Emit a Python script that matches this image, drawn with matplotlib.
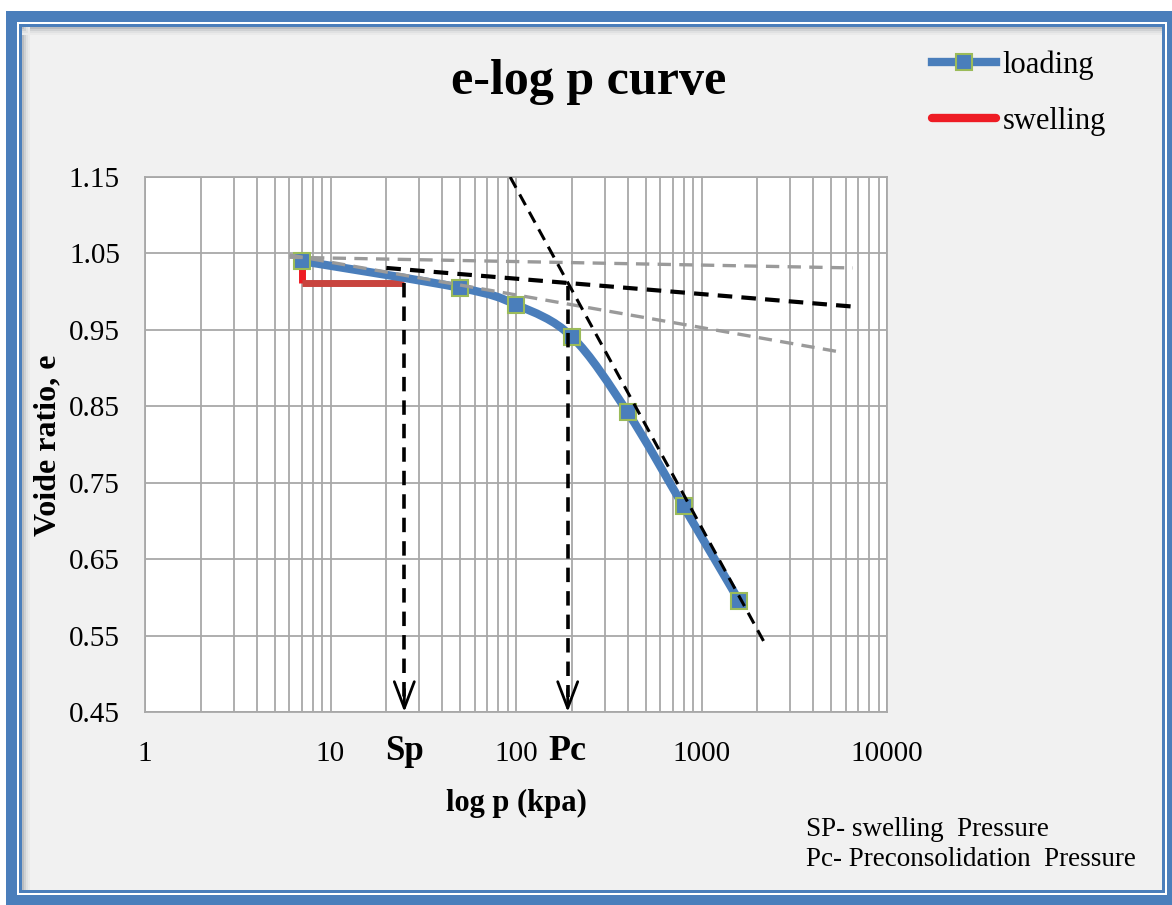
"""
e-log p curve of an oedometer test: loading and swelling branches with the
Casagrande construction for the preconsolidation pressure.
"""
import matplotlib
matplotlib.use('Agg')
import matplotlib.pyplot as plt
import numpy as np
from matplotlib.lines import Line2D
from matplotlib.patches import PathPatch, Rectangle
from matplotlib.path import Path
from matplotlib.ticker import FixedLocator, NullFormatter, LogLocator

plt.rcParams['font.family'] = ['Liberation Serif', 'DejaVu Serif']

# loading branch (p in kPa, void ratio e)
loading_p = [7, 50, 100, 200, 400, 800, 1600]
loading_e = [1.040, 1.005, 0.983, 0.941, 0.842, 0.719, 0.595]

# swelling branch
swelling_p = [7, 7, 25]
swelling_e = [1.040, 1.011, 1.011]

# construction lines: [p_start, p_end], [e_start, e_end]
virgin_p, virgin_e = [93, 2250], [1.15, 0.535]
tangent_p, tangent_e = [20, 6900], [1.031, 0.980]
horiz_p, horiz_e = [6, 6550], [1.045, 1.031]
bisect_p, bisect_e = [6, 5600], [1.048, 0.921]

# pressures
sp_value, sp_e = 25, 1.011
pc_value, pc_e = 190, 1.008

y_ticks = [0.45, 0.55, 0.65, 0.75, 0.85, 0.95, 1.05, 1.15]
x_ticks = [1, 10, 100, 1000, 10000]

W, H = 1172, 905
BLUE = '#4a7ebb'
GRID = '#a8a8a8'


def fig_xy(x, y):
    """pixel position (origin top left) -> figure fraction"""
    return x / W, 1 - y / H


def smooth_path(px, py):
    """Catmull-Rom style bezier through the points, built in log10(p) space."""
    u = np.log10(px)
    v = np.asarray(py, dtype=float)
    pts = np.column_stack([u, v])
    ext = np.vstack([pts[0], pts, pts[-1]])
    verts = [pts[0]]
    codes = [Path.MOVETO]
    for i in range(len(pts) - 1):
        p0, p1, p2, p3 = ext[i], ext[i + 1], ext[i + 2], ext[i + 3]
        c1 = p1 + (p2 - p0) / 6.0
        c2 = p2 - (p3 - p1) / 6.0
        verts += [c1, c2, p2]
        codes += [Path.CURVE4] * 3
    verts = np.array(verts)
    verts[:, 0] = 10 ** verts[:, 0]
    return Path(verts, codes)


fig = plt.figure(figsize=(W / 100, H / 100), dpi=100)
fig.patch.set_facecolor('white')

# frame around the chart
bg = fig.add_axes([0, 0, 1, 1])
bg.set_xlim(0, W)
bg.set_ylim(H, 0)
bg.axis('off')
bg.add_patch(Rectangle((6, 11), W - 6, H - 11, color=BLUE, lw=0))
bg.add_patch(Rectangle((17, 22), 1150, 873, color='white', lw=0))
bg.add_patch(Rectangle((19, 24), 1146, 869, color=BLUE, lw=0))
bg.add_patch(Rectangle((22, 27), 1140, 863, color='#f1f1f1', lw=0))
# soft inner shadow along top and left edges
for k, shade in enumerate(['#b9bcc0', '#cfd1d3', '#e0e1e2', '#eaeaea']):
    bg.add_patch(Rectangle((22, 27 + 2 * k), 1140, 2, color=shade, lw=0))
    bg.add_patch(Rectangle((22 + 2 * k, 27), 2, 863, color=shade, lw=0))

x0, y0 = fig_xy(145, 712)
x1, y1 = fig_xy(887, 177)
ax = fig.add_axes([x0, y0, x1 - x0, y1 - y0])
ax.set_facecolor('white')
ax.set_xscale('log')
ax.set_xlim(1, 10000)
ax.set_ylim(0.45, 1.15)

ax.xaxis.set_major_locator(FixedLocator(x_ticks))
ax.xaxis.set_minor_locator(LogLocator(base=10, subs=np.arange(2, 10)))
ax.xaxis.set_minor_formatter(NullFormatter())
ax.set_xticks(x_ticks)
ax.set_xticklabels([str(t) for t in x_ticks])
ax.set_yticks(y_ticks)
ax.set_yticklabels(['%.2f' % t for t in y_ticks])
ax.tick_params(which='both', length=0, labelsize=21)
ax.tick_params(axis='x', pad=21)
ax.tick_params(axis='y', pad=18)
ax.grid(True, which='both', axis='x', color=GRID, lw=1.3)
ax.grid(True, which='major', axis='y', color=GRID, lw=1.3)
for s in ax.spines.values():
    s.set_color(GRID)
    s.set_linewidth(1.3)

# swelling branch
ax.plot(swelling_p[:2], swelling_e[:2], color='#ee1c24', lw=5,
        solid_capstyle='butt', zorder=3)
ax.plot(swelling_p[1:], swelling_e[1:], color='#c8443e', lw=5,
        solid_capstyle='butt', zorder=3)

# loading branch, smoothed
ax.add_patch(PathPatch(smooth_path(loading_p, loading_e), fill=False,
                       edgecolor=BLUE, lw=6, capstyle='round', zorder=4))
ax.plot(loading_p, loading_e, ls='none', marker='s', ms=11,
        mfc=BLUE, mec='#9bbb59', mew=1.5, zorder=5)

# Casagrande construction
ax.plot(horiz_p, horiz_e, color='#9a9a9a', lw=2.4, ls=(0, (4, 2.5)), zorder=6)
ax.plot(bisect_p, bisect_e, color='#9a9a9a', lw=2.4, ls=(0, (4, 2.5)), zorder=6)
ax.plot(tangent_p, tangent_e, color='black', lw=3, ls=(0, (3.5, 2.2)), zorder=6)
ax.plot(virgin_p, virgin_e, color='black', lw=2.2, ls=(0, (4, 2.5)), zorder=6)

# arrows down to Sp and Pc
for xv, ev, name, fs in [(sp_value, sp_e, 'Sp', 25), (pc_value, pc_e, 'Pc', 26)]:
    ax.plot([xv, xv], [ev, 0.47], color='black', lw=2.6, ls=(0, (4, 2.5)),
            zorder=6)
    ax.annotate('', xy=(xv, 0.45), xytext=(xv, 0.48),
                arrowprops=dict(arrowstyle='->,head_length=0.95,head_width=0.36',
                                lw=2, color='black', mutation_scale=20,
                                shrinkA=0, shrinkB=0),
                zorder=7, annotation_clip=False)
    ax.text(xv, -0.074, name, transform=ax.get_xaxis_transform(),
            ha='center', va='center', fontsize=fs, fontweight='bold')

# titles and labels
fig.text(*fig_xy(589, 82), 'e-log p curve', ha='center', va='center',
         fontsize=36, fontweight='bold')
fig.text(*fig_xy(516, 803), 'log p (kpa)', ha='center', va='center',
         fontsize=22, fontweight='bold')
fig.text(*fig_xy(48, 445), 'Voide ratio, e', ha='center', va='center',
         rotation=90, fontsize=23, fontweight='bold')

# legend
handles = [
    Line2D([], [], color=BLUE, lw=6, marker='s', ms=11, mfc=BLUE,
           mec='#9bbb59', mew=1.5),
    Line2D([], [], color='#ee1c24', lw=6, solid_capstyle='round'),
]
fig.legend(handles, ['loading', 'swelling'], loc='upper left',
           bbox_to_anchor=fig_xy(932, 50), frameon=False, fontsize=22,
           handlelength=2.1, handletextpad=0.2, labelspacing=0.9,
           borderpad=0, borderaxespad=0)

# notes
fig.text(*fig_xy(806, 829), 'SP- swelling  Pressure', ha='left',
         va='center', fontsize=19.5)
fig.text(*fig_xy(806, 859), 'Pc- Preconsolidation  Pressure', ha='left',
         va='center', fontsize=19.5)

fig.savefig('out.png', dpi=100)
